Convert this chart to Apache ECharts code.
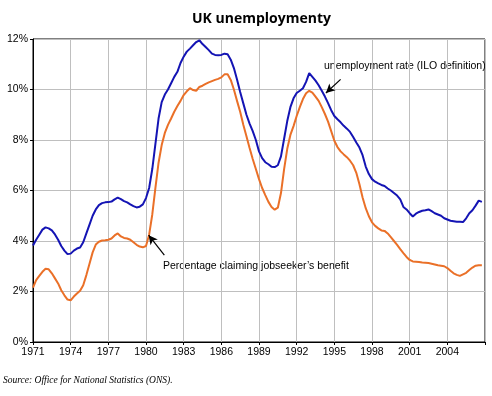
<!DOCTYPE html>
<html>
<head>
<meta charset="utf-8">
<script src="https://cdn.jsdelivr.net/npm/echarts@6/dist/echarts.min.js"></script>
<style>
  html, body { margin: 0; padding: 0; background: #fff; }
  #chart { width: 492px; height: 396px; }
</style>
</head>
<body>
<div id="chart"></div>
<script>
// quarterly readings, first point = 1971 Q1
const startYear = 1971;
const step = 0.25;

// unemployment rate (ILO definition), %
const iloRate = [
  3.82, 4.05, 4.25, 4.45,   // 1971
  4.54, 4.50, 4.42, 4.26,   // 1972
  4.05, 3.80, 3.62, 3.48,   // 1973
  3.50, 3.62, 3.70, 3.74,   // 1974
  3.95, 4.30, 4.65, 5.00,   // 1975
  5.25, 5.42, 5.50, 5.53,   // 1976
  5.54, 5.56, 5.65, 5.72,   // 1977
  5.66, 5.58, 5.53, 5.45,   // 1978
  5.38, 5.33, 5.36, 5.45,   // 1979
  5.70, 6.10, 6.85, 7.85,   // 1980
  8.85, 9.50, 9.80, 10.00,  // 1981
  10.25, 10.50, 10.70, 11.05, // 1982
  11.30, 11.50, 11.62, 11.75, // 1983
  11.88, 11.95, 11.80, 11.68, // 1984
  11.56, 11.42, 11.37, 11.36, // 1985
  11.37, 11.42, 11.40, 11.18, // 1986
  10.85, 10.40, 9.90, 9.45,  // 1987
  9.00, 8.65, 8.35, 8.00,   // 1988
  7.55, 7.28, 7.12, 7.04,   // 1989
  6.94, 6.93, 7.00, 7.35,   // 1990
  8.05, 8.75, 9.30, 9.65,   // 1991
  9.86, 9.95, 10.05, 10.30, // 1992
  10.65, 10.50, 10.35, 10.17, // 1993
  9.95, 9.72, 9.46, 9.18,   // 1994
  8.95, 8.82, 8.70, 8.56,   // 1995
  8.45, 8.32, 8.12, 7.90,   // 1996
  7.70, 7.40, 6.95, 6.65,   // 1997
  6.45, 6.35, 6.28, 6.22,   // 1998
  6.18, 6.08, 6.00, 5.90,   // 1999
  5.80, 5.65, 5.35, 5.25,   // 2000
  5.10, 4.97, 5.08, 5.15,   // 2001
  5.20, 5.22, 5.25, 5.18,   // 2002
  5.10, 5.05, 5.00, 4.90,   // 2003
  4.85, 4.80, 4.78, 4.76,   // 2004
  4.76, 4.75, 4.90, 5.10,   // 2005
  5.22, 5.40, 5.60, 5.55    // 2006
];

// percentage claiming jobseeker's benefit, %
const claimantRate = [
  2.15, 2.45, 2.62, 2.78,   // 1971
  2.90, 2.88, 2.72, 2.52,   // 1972
  2.32, 2.05, 1.85, 1.68,   // 1973
  1.65, 1.80, 1.92, 2.03,   // 1974
  2.25, 2.65, 3.10, 3.55,   // 1975
  3.86, 3.97, 4.02, 4.03,   // 1976
  4.05, 4.10, 4.22, 4.30,   // 1977
  4.18, 4.12, 4.10, 4.05,   // 1978
  3.95, 3.85, 3.78, 3.75,   // 1979
  3.80, 4.25, 5.05, 6.10,   // 1980
  7.10, 7.80, 8.28, 8.60,   // 1981
  8.85, 9.12, 9.35, 9.55,   // 1982
  9.78, 9.93, 10.05, 9.98,  // 1983
  9.95, 10.10, 10.15, 10.22, // 1984
  10.28, 10.33, 10.38, 10.42, // 1985
  10.48, 10.60, 10.60, 10.38, // 1986
  10.00, 9.55, 9.12, 8.60,  // 1987
  8.15, 7.68, 7.25, 6.85,   // 1988
  6.45, 6.10, 5.82, 5.55,   // 1989
  5.35, 5.24, 5.32, 5.90,   // 1990
  6.85, 7.65, 8.20, 8.55,   // 1991
  8.95, 9.30, 9.62, 9.85,   // 1992
  9.95, 9.88, 9.72, 9.55,   // 1993
  9.30, 9.03, 8.73, 8.35,   // 1994
  7.97, 7.72, 7.55, 7.43,   // 1995
  7.32, 7.18, 7.00, 6.70,   // 1996
  6.25, 5.72, 5.30, 4.98,   // 1997
  4.74, 4.60, 4.50, 4.42,   // 1998
  4.40, 4.30, 4.15, 4.00,   // 1999
  3.85, 3.68, 3.52, 3.37,   // 2000
  3.25, 3.19, 3.18, 3.17,   // 2001
  3.15, 3.14, 3.13, 3.10,   // 2002
  3.07, 3.04, 3.02, 3.00,   // 2003
  2.93, 2.82, 2.72, 2.66,   // 2004
  2.62, 2.68, 2.74, 2.85,   // 2005
  2.95, 3.02, 3.04, 3.04    // 2006
];

// annotation arrows: [tail, tip] in [year, %]
const iloArrow = [[1995.5, 10.4], [1994.33, 9.86]];
const claimantArrow = [[1981.46, 3.44], [1980.21, 4.23]];

const xMin = 1971, xMax = 2007, xStep = 3;
const yMin = 0, yMax = 12, yStep = 2;

const toPairs = (arr) => arr.map((v, i) => [startYear + i * step, v]);

const axisFont = 'Liberation Sans';
const blue = '#1414b4';
const orange = '#ea7028';
const chart = echarts.init(document.getElementById('chart'), null, { renderer: 'canvas' });

const arrowLine = (pts) => ({
  silent: true,
  symbol: ['none', 'arrow'],
  symbolSize: [7, 9],
  label: { show: false },
  lineStyle: { color: '#000', width: 1.2, type: 'solid' },
  emphasis: { disabled: true },
  data: [[{ coord: pts[0] }, { coord: pts[1] }]]
});

const option = {
  animation: false,
  backgroundColor: '#fff',
  title: {
    text: 'UK unemploymenty',
    left: 187,
    top: 7,
    textStyle: { fontFamily: 'Open Sans', fontWeight: 'bold', fontSize: 14, color: '#000' }
  },
  grid: {
    left: 33, right: 7, top: 39, bottom: 54,
    show: true, borderColor: '#000', borderWidth: 1
  },
  xAxis: {
    type: 'value',
    min: xMin, max: xMax, interval: xStep,
    axisLine: { show: true, lineStyle: { color: '#000' } },
    axisTick: { show: true, length: 3, lineStyle: { color: '#000' } },
    splitLine: { show: true, lineStyle: { color: '#bfbfbf', width: 1 } },
    axisLabel: {
      margin: 5,
      fontFamily: axisFont, fontSize: 10.5, color: '#000',
      formatter: (v) => (v >= xMax ? '' : String(v))
    }
  },
  yAxis: {
    type: 'value',
    min: yMin, max: yMax, interval: yStep,
    axisLine: { show: true, lineStyle: { color: '#000' } },
    axisTick: { show: true, length: 3, lineStyle: { color: '#000' } },
    splitLine: { show: true, lineStyle: { color: '#bfbfbf', width: 1 } },
    axisLabel: {
      margin: 5,
      fontFamily: axisFont, fontSize: 10.5, color: '#000',
      formatter: '{value}%'
    }
  },
  series: [
    {
      name: 'unemployment rate (ILO definition)',
      type: 'line',
      data: toPairs(iloRate),
      showSymbol: false,
      lineStyle: { color: blue, width: 2 },
      itemStyle: { color: blue },
      markLine: arrowLine(iloArrow)
    },
    {
      name: "Percentage claiming jobseeker's benefit",
      type: 'line',
      data: toPairs(claimantRate),
      showSymbol: false,
      lineStyle: { color: orange, width: 2 },
      itemStyle: { color: orange },
      markLine: arrowLine(claimantArrow)
    }
  ],
  graphic: [
    {
      type: 'text', left: 324, top: 61,
      style: { text: 'unemployment rate (ILO definition)', font: '10.5px "Liberation Sans"', fill: '#000' }
    },
    {
      type: 'text', left: 163, top: 261,
      style: { text: 'Percentage claiming jobseeker\u2019s benefit', font: '10.5px "Liberation Sans"', fill: '#000' }
    },
    {
      type: 'text', left: 3, top: 375,
      style: { text: 'Source: Office for National Statistics (ONS).', font: 'italic 9.5px "Liberation Serif"', fill: '#000' }
    }
  ]
};

chart.setOption(option);
</script>
</body>
</html>
